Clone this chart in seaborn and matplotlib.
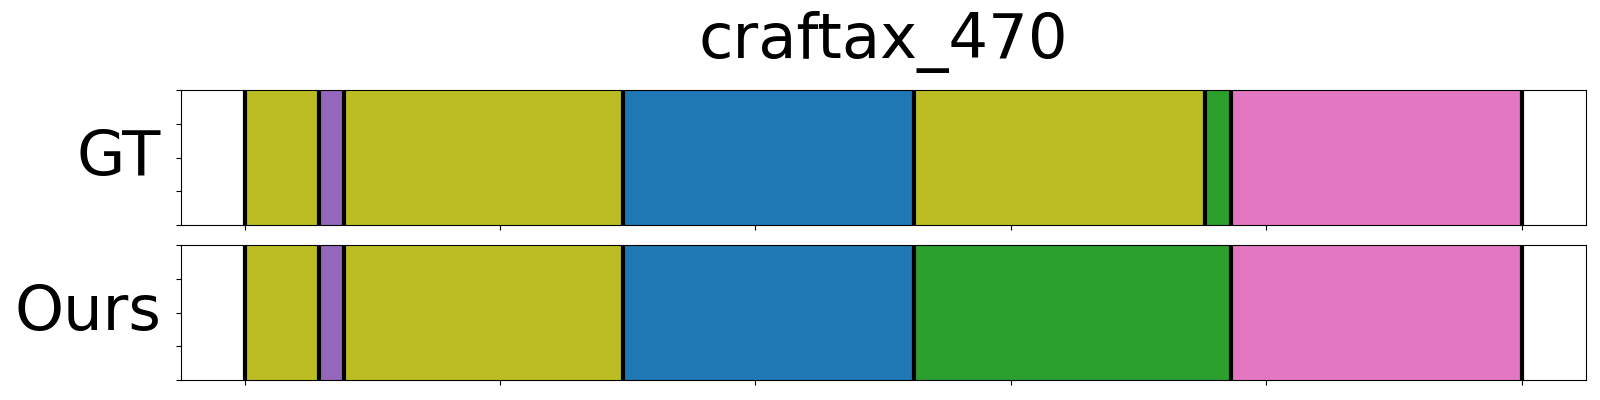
import matplotlib
matplotlib.use("Agg")
import matplotlib.pyplot as plt
import seaborn as sns

# segment boundaries (frame index) and cluster ids per segment
title = "craftax_470"
n_frames = 500
gt_bounds = [0, 29, 39, 148, 262, 376, 386, 500]
gt_labels = [8, 4, 8, 0, 8, 2, 6]
ours_bounds = [0, 29, 39, 148, 262, 386, 500]
ours_labels = [8, 4, 8, 0, 2, 6]
row_names = ["GT", "Ours"]

palette = sns.color_palette("tab10")


def draw_row(ax, bounds, labels, name):
    starts = bounds[:-1]
    widths = [b - a for a, b in zip(bounds[:-1], bounds[1:])]
    ax.barh(y=0.5, width=widths, left=starts, height=1.0,
            color=[palette[c] for c in labels], edgecolor="none")
    for b in bounds:
        ax.axvline(b, color="black", linewidth=3)
    ax.set_ylim(0, 1)
    ax.set_xlim(-0.05 * n_frames, 1.05 * n_frames)
    ax.set_xticks(range(0, n_frames + 1, 100))
    ax.set_yticks([0, 0.25, 0.5, 0.75, 1.0])
    ax.set_xticklabels([])
    ax.set_yticklabels([])
    ax.set_ylabel(name, rotation=0, fontsize=45, ha="right", va="center", labelpad=7)


fig, (ax1, ax2) = plt.subplots(nrows=2, ncols=1, figsize=(16, 4), dpi=100)
fig.subplots_adjust(left=0.113, right=0.991, top=0.774, bottom=0.05, hspace=0.151)

draw_row(ax1, gt_bounds, gt_labels, row_names[0])
draw_row(ax2, ours_bounds, ours_labels, row_names[1])
ax1.set_title(title, fontsize=45, pad=23)

fig.savefig("out.png")
